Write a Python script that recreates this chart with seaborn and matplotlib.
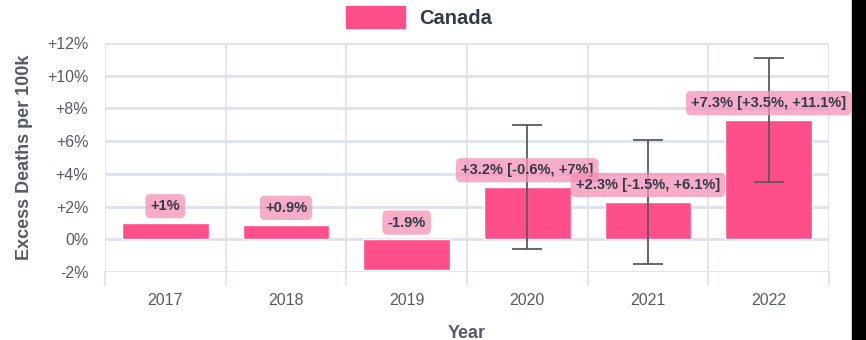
import matplotlib
matplotlib.use("Agg")
import matplotlib.pyplot as plt
import matplotlib.patches as mpatches
import numpy as np
import pandas as pd
import seaborn as sns

years = ["2017", "2018", "2019", "2020", "2021", "2022"]
excess = [1.0, 0.9, -1.9, 3.2, 2.3, 7.3]
ci_low = [None, None, None, -0.6, -1.5, 3.5]
ci_high = [None, None, None, 7.0, 6.1, 11.1]
y_ticks = [-2, 0, 2, 4, 6, 8, 10, 12]

BAR = "#ff4f8b"
GRID = "#dde2f0"
TEXT = "#333a47"
AXTEXT = "#555b66"

sns.set_theme(style="white")
plt.rcParams["font.family"] = ["Liberation Sans", "DejaVu Sans"]

df = pd.DataFrame({"Year": years, "Excess": excess})

fig = plt.figure(figsize=(8.66, 3.40), dpi=100)
ax = fig.add_axes([0.1212, 0.2, 0.836, 0.6735])

sns.barplot(data=df, x="Year", y="Excess", color=BAR, saturation=1,
            width=0.72, ax=ax, zorder=3)

ax.set_ylim(-2, 12)
ax.set_xlim(-0.5, len(years) - 0.5)
ax.set_yticks(y_ticks)
ax.set_yticklabels([("+" if t > 0 else "") + f"{t}%" for t in y_ticks],
                   fontsize=11.5, color=AXTEXT)
ax.tick_params(axis="x", labelsize=11.5, labelcolor=AXTEXT, length=0, pad=15)
ax.tick_params(axis="y", length=9, width=1.2, color=GRID, pad=3)

# horizontal grid
for t in y_ticks:
    ax.axhline(t, color=GRID, lw=2, zorder=0)
# vertical separators between categories, extended below the axis
for b in np.arange(-0.5, len(years), 1.0):
    ax.axvline(b, color=GRID, lw=1.2, zorder=0)
    ax.plot([b, b], [0, -0.055], transform=ax.get_xaxis_transform(),
            color=GRID, lw=1.2, clip_on=False)

for s in ax.spines.values():
    s.set_visible(False)

ax.set_xlabel("Year", fontsize=13, fontweight="bold", color=AXTEXT, labelpad=12)
ax.set_ylabel("Excess Deaths per 100k", fontsize=13, fontweight="bold",
              color=AXTEXT, labelpad=10)

# confidence intervals
for i, (lo, hi, v) in enumerate(zip(ci_low, ci_high, excess)):
    if lo is None:
        continue
    ax.errorbar(i, v, yerr=[[v - lo], [hi - v]], fmt="none", ecolor="#5a5a5a",
                elinewidth=1.3, capsize=11, capthick=1.3, zorder=4)

def fmt(x):
    s = f"{x:g}"
    return ("+" if x > 0 else "") + s + "%"

for i, (v, lo, hi) in enumerate(zip(excess, ci_low, ci_high)):
    label = fmt(v)
    if lo is not None:
        label += f" [{fmt(lo)}, {fmt(hi)}]"
    ax.annotate(label, (i, max(v, 0)), xytext=(0, 7), textcoords="offset points",
                ha="center", va="bottom", fontsize=10.5, fontweight="bold",
                color=TEXT, zorder=5,
                bbox=dict(boxstyle="round,pad=0.35,rounding_size=0.35",
                          fc="#f590b8", ec="none", alpha=0.75))

# legend
handle = mpatches.Patch(color=BAR, label="Canada")
fig.legend(handles=[handle], loc="upper center", bbox_to_anchor=(0.484, 1.035),
           frameon=False, prop={"size": 14.5, "weight": "bold"},
           handlelength=2.9, handleheight=1.3, handletextpad=0.7,
           labelcolor=TEXT)

# dark strip along the right edge
fig.patches.append(mpatches.Rectangle((0.984, 0), 0.016, 1, transform=fig.transFigure,
                                      color="black", zorder=10))

fig.savefig("out.png", dpi=100)
